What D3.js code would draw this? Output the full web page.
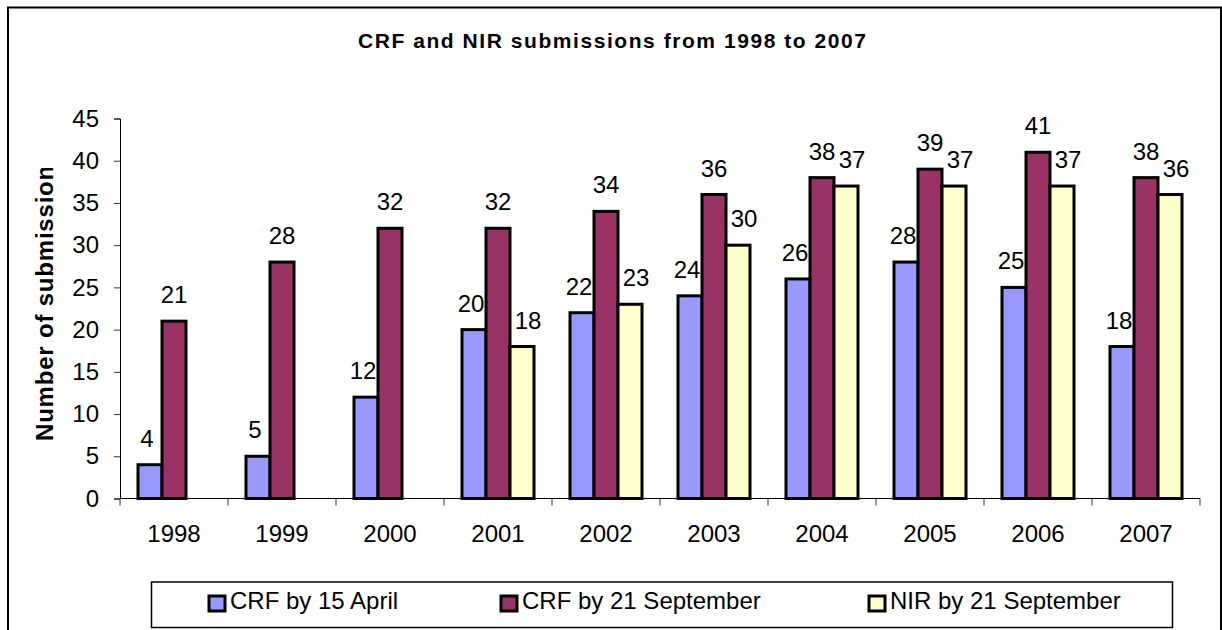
<!DOCTYPE html>
<html>
  <head>
    <title>CRF and NIR submissions</title>
    <script src="https://d3js.org/d3.v7.min.js"></script>
    <style>
      body { margin: 0; background: #fff; }
      text { font-family: "Liberation Sans", Arial, sans-serif; fill: #000; }
    </style>
  </head>

  <body>
    <svg width="1222" height="630"></svg>

    <script>
      // data
      const years = ['1998', '1999', '2000', '2001', '2002', '2003', '2004', '2005', '2006', '2007'];
      const crfApril = [4, 5, 12, 20, 22, 24, 26, 28, 25, 18];
      const crfSeptember = [21, 28, 32, 32, 34, 36, 38, 39, 41, 38];
      const nirSeptember = [null, null, null, 18, 23, 30, 37, 37, 37, 36];
      const seriesNames = ['CRF by 15 April', 'CRF by 21 September', 'NIR by 21 September'];
      const seriesColors = ['#9999ff', '#993366', '#ffffcc'];
      const yTicks = [0, 5, 10, 15, 20, 25, 30, 35, 40, 45];

      const svg = d3.select('svg');
      const seriesValues = [crfApril, crfSeptember, nirSeptember];

      // outer frame (bottom edge lies off the picture)
      svg.append('rect')
        .attr('x', 8).attr('y', 7.5)
        .attr('width', 1213).attr('height', 640)
        .attr('fill', 'none').attr('stroke', '#000').attr('stroke-width', 2);

      svg.append('text')
        .attr('x', 358).attr('y', 48)
        .attr('textLength', 508).attr('lengthAdjust', 'spacing')
        .style('font-size', '21px').style('font-weight', 'bold')
        .text('CRF and NIR submissions from 1998 to 2007');

      const x = d3.scaleBand().domain(years).range([120, 1200])
        .paddingInner(1 / 3).paddingOuter(1 / 6);
      const x1 = d3.scaleBand().domain(d3.range(3)).range([0, x.bandwidth()]);
      const y = d3.scaleLinear().domain([0, 45]).range([498.5, 118.5]);

      // y axis
      const yAxis = svg.append('g')
        .attr('transform', 'translate(120,0)')
        .call(d3.axisLeft(y).tickValues(yTicks).tickSize(6).tickPadding(15));
      yAxis.select('.domain').attr('stroke', '#000');
      yAxis.selectAll('.tick line').attr('stroke', '#333');
      yAxis.selectAll('.tick text')
        .style('font-size', '24px')
        .style('font-family', '"Liberation Sans", Arial, sans-serif');

      // y title, clipped at the top like the original
      svg.append('clipPath').attr('id', 'ytclip')
        .append('rect').attr('x', 0).attr('y', 168).attr('width', 100).attr('height', 400);
      svg.append('g')
        .attr('clip-path', 'url(#ytclip)')
        .append('text')
          .attr('transform', 'translate(53,441) rotate(-90)')
          .style('font-size', '24px').style('font-weight', 'bold')
          .style('letter-spacing', '0.8px')
          .text('Number of submissions');

      // bars
      const groups = svg.append('g').selectAll('g')
        .data(years)
        .join('g')
          .attr('transform', d => `translate(${x(d)},0)`);

      groups.selectAll('rect')
        .data((d, i) => seriesValues.map((s, k) => ({ k: k, v: s[i] })).filter(e => e.v != null))
        .join('rect')
          .attr('x', e => x1(e.k))
          .attr('y', e => y(e.v))
          .attr('width', x1.bandwidth())
          .attr('height', e => y(0) - y(e.v))
          .attr('fill', e => seriesColors[e.k])
          .attr('stroke', '#000')
          .attr('stroke-width', 3);

      const labelShift = [-3, 0, 6];
      groups.selectAll('text')
        .data((d, i) => seriesValues.map((s, k) => ({ k: k, v: s[i] })).filter(e => e.v != null))
        .join('text')
          .attr('x', e => x1(e.k) + x1.bandwidth() / 2 + labelShift[e.k])
          .attr('y', e => y(e.v) - 18)
          .attr('text-anchor', 'middle')
          .style('font-size', '24px')
          .text(e => e.v);

      // x axis: line, ticks at category borders, labels at centres
      const step = x.step();
      const borders = years.map(d => x(d) - step * x.paddingInner() / 2).concat([1200]);
      svg.append('line')
        .attr('x1', 120).attr('x2', 1200)
        .attr('y1', y(0)).attr('y2', y(0))
        .attr('stroke', '#000');
      svg.append('g').selectAll('line')
        .data(borders)
        .join('line')
          .attr('x1', d => d).attr('x2', d => d)
          .attr('y1', y(0)).attr('y2', y(0) + 7)
          .attr('stroke', '#333');
      svg.append('g').selectAll('text')
        .data(years)
        .join('text')
          .attr('x', d => x(d) + x.bandwidth() / 2)
          .attr('y', 542)
          .attr('text-anchor', 'middle')
          .style('font-size', '24px')
          .text(d => d);

      // legend
      const legend = svg.append('g');
      legend.append('rect')
        .attr('x', 151.5).attr('y', 582)
        .attr('width', 1021).attr('height', 45.5)
        .attr('fill', 'none').attr('stroke', '#000').attr('stroke-width', 1.5);
      const legendX = [209, 501, 869];
      const item = legend.selectAll('g.item')
        .data(seriesNames)
        .join('g')
          .attr('class', 'item')
          .attr('transform', (d, i) => `translate(${legendX[i]},596)`);
      item.append('rect')
        .attr('width', 16).attr('height', 15)
        .attr('fill', (d, i) => seriesColors[i])
        .attr('stroke', '#000').attr('stroke-width', 3);
      item.append('text')
        .attr('x', 21).attr('y', 13)
        .style('font-size', '24px')
        .text(d => d);
    </script>
  </body>
</html>
